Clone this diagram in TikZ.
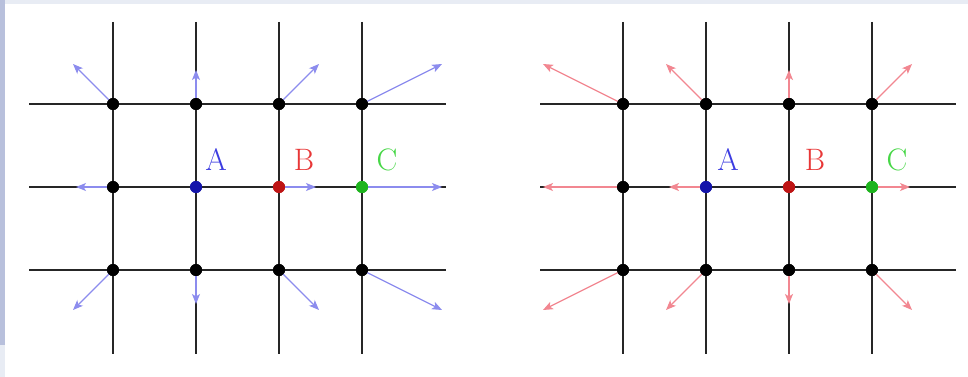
\documentclass[tikz,border=0pt]{standalone}
\usetikzlibrary{arrows.meta}
\definecolor{bgband}{RGB}{184,192,220}
\definecolor{bgtop}{RGB}{232,236,244}
\definecolor{vecblue}{RGB}{140,140,238}
\definecolor{vecred}{RGB}{242,135,145}
\definecolor{dotA}{RGB}{20,20,170}
\definecolor{dotB}{RGB}{190,20,20}
\definecolor{dotC}{RGB}{30,180,30}
\definecolor{labA}{RGB}{60,60,225}
\definecolor{labB}{RGB}{232,55,55}
\definecolor{labC}{RGB}{70,215,70}
\tikzset{
  gridline/.style={line width=2pt, draw=black!85},
  pt/.style={circle, fill=#1, inner sep=0pt, minimum size=12pt},
  pt/.default=black,
  vecarrow/.style={line width=1.3pt, draw=#1, -{Stealth[length=10pt,width=8pt,inset=2.5pt]}},
  lab/.style={font=\fontsize{31}{33}\selectfont, text=#1, inner sep=0pt}
}
\begin{document}
\begin{tikzpicture}[x=1pt,y=-1pt]
\useasboundingbox (0,0) rectangle (968,377);
\fill[white] (0,0) rectangle (968,377);
\fill[bgtop] (0,0) rectangle (968,4);
\fill[bgband] (0,0) rectangle (5,345);
\fill[bgtop] (0,345) rectangle (5,377);

% ---------- grid lines ----------
\foreach \x in {113,196,279,362}{\draw[gridline] (\x,22) -- (\x,354);}
\foreach \y in {104,187,270}{\draw[gridline] (29,\y) -- (446,\y);}
\foreach \x in {623,706,789,872}{\draw[gridline] (\x,22) -- (\x,354);}
\foreach \y in {104,187,270}{\draw[gridline] (540,\y) -- (956,\y);}

% ---------- left panel dots ----------
\node[pt] (L11) at (113,104) {};
\node[pt] (L12) at (196,104) {};
\node[pt] (L13) at (279,104) {};
\node[pt] (L14) at (362,104) {};
\node[pt] (L21) at (113,187) {};
\node[pt=dotA] (LA) at (196,187) {};
\node[pt=dotB] (LB) at (279,187) {};
\node[pt=dotC] (LC) at (362,187) {};
\node[pt] (L31) at (113,270) {};
\node[pt] (L32) at (196,270) {};
\node[pt] (L33) at (279,270) {};
\node[pt] (L34) at (362,270) {};

% left arrow ends
\coordinate (e11) at (73,64);
\coordinate (e12) at (196,70);
\coordinate (e13) at (319,64);
\coordinate (e14) at (442,64);
\coordinate (e21) at (76,187);
\coordinate (eB)  at (316,187);
\coordinate (eC)  at (442,187);
\coordinate (e31) at (73,310);
\coordinate (e32) at (196,304);
\coordinate (e33) at (319,310);
\coordinate (e34) at (442,310);

\foreach \s/\e in {L11/e11,L12/e12,L13/e13,L14/e14,L21/e21,LB/eB,LC/eC,L31/e31,L32/e32,L33/e33,L34/e34}
  {\draw[vecarrow=vecblue] (\s.center) -- (\e);}

\node[lab=labA] (tA) at (216,160) {A};
\node[lab=labB] (tB) at (304,160) {B};
\node[lab=labC] (tC) at (387,160) {C};

% ---------- right panel dots ----------
\node[pt] (R11) at (623,104) {};
\node[pt] (R12) at (706,104) {};
\node[pt] (R13) at (789,104) {};
\node[pt] (R14) at (872,104) {};
\node[pt] (R21) at (623,187) {};
\node[pt=dotA] (RA) at (706,187) {};
\node[pt=dotB] (RB) at (789,187) {};
\node[pt=dotC] (RC) at (872,187) {};
\node[pt] (R31) at (623,270) {};
\node[pt] (R32) at (706,270) {};
\node[pt] (R33) at (789,270) {};
\node[pt] (R34) at (872,270) {};

\coordinate (f11) at (543,64);
\coordinate (f12) at (666,64);
\coordinate (f13) at (789,70);
\coordinate (f14) at (912,64);
\coordinate (f21) at (543,187);
\coordinate (fA)  at (669,187);
\coordinate (fC)  at (910,187);
\coordinate (f31) at (543,310);
\coordinate (f32) at (666,310);
\coordinate (f33) at (789,304);
\coordinate (f34) at (912,310);

\foreach \s/\e in {R11/f11,R12/f12,R13/f13,R14/f14,R21/f21,RA/fA,RC/fC,R31/f31,R32/f32,R33/f33,R34/f34}
  {\draw[vecarrow=vecred] (\s.center) -- (\e);}

\node[lab=labA] (uA) at (728,160) {A};
\node[lab=labB] (uB) at (815,160) {B};
\node[lab=labC] (uC) at (897,160) {C};

% redraw dots on top of arrows
\foreach \n/\c in {L11/black,L12/black,L13/black,L14/black,L21/black,LA/dotA,LB/dotB,LC/dotC,L31/black,L32/black,L33/black,L34/black,
                   R11/black,R12/black,R13/black,R14/black,R21/black,RA/dotA,RB/dotB,RC/dotC,R31/black,R32/black,R33/black,R34/black}
  {\fill[\c] (\n.center) circle (6pt);}
\end{tikzpicture}
\end{document}
